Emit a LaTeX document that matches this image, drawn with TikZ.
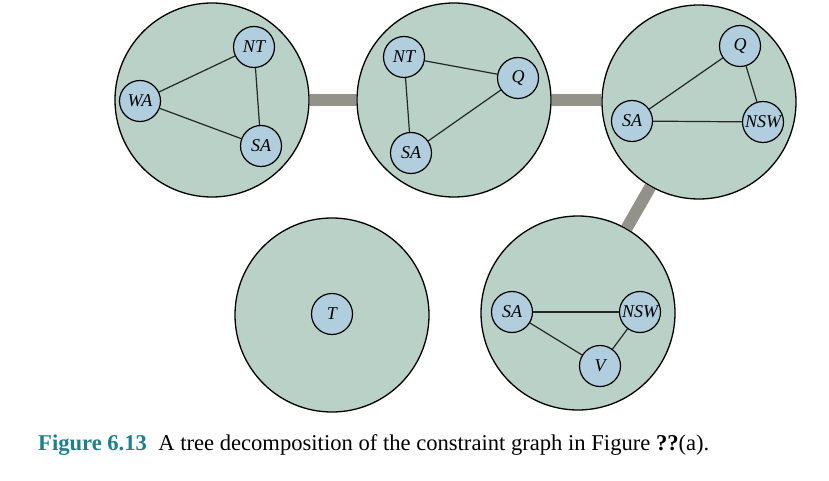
\documentclass[tikz,border=0pt]{standalone}
\usepackage{fontspec}
\setmainfont{Liberation Serif}
\definecolor{bagfill}{RGB}{185,209,198}
\definecolor{varfill}{RGB}{176,206,222}
\definecolor{linkgray}{RGB}{146,146,138}
\definecolor{capteal}{RGB}{30,128,140}
\begin{document}
\begin{tikzpicture}[x=1pt,y=-1pt,
  bag/.style={circle,draw=black,line width=1.3pt,fill=bagfill,minimum size=194pt,inner sep=0pt},
  var/.style={circle,draw=black,line width=1.2pt,fill=varfill,minimum size=41pt,inner sep=0pt,font=\fontsize{18}{20}\selectfont\itshape},
  edge/.style={line width=1.2pt,black!85},
  link/.style={line width=12pt,linkgray}]
\useasboundingbox (0,0) rectangle (829,481);
% bags
\node[bag] (b1) at (212,100) {};
\node[bag] (b2) at (454,100) {};
\node[bag] (b3) at (699,102) {};
\node[bag] (b4) at (332,315) {};
\node[bag] (b5) at (578,313) {};
% bag 1
\node[var] (nt1) at (254,47) {NT};
\node[var] (wa1) at (140,101) {WA};
\node[var] (sa1) at (261,146) {SA};
\draw[edge] (wa1) -- (nt1);
\draw[edge] (wa1) -- (sa1);
\draw[edge] (nt1) -- (sa1);
% bag 2
\node[var] (nt2) at (404,57) {NT};
\node[var] (q2) at (518,78) {Q};
\node[var] (sa2) at (411,153) {SA};
\draw[edge] (nt2) -- (q2);
\draw[edge] (nt2) -- (sa2);
\draw[edge] (sa2) -- (q2);
% bag 3
\node[var] (q3) at (740,46) {Q};
\node[var] (sa3) at (632,121) {SA};
\node[var] (nsw3) at (763,122) {NSW};
\draw[edge] (sa3) -- (q3);
\draw[edge] (sa3) -- (nsw3);
\draw[edge] (q3) -- (nsw3);
% bag 4
\node[var] (t4) at (332,314) {T};
% bag 5
\node[var] (sa5) at (512,312) {SA};
\node[var] (nsw5) at (640,312) {NSW};
\node[var] (v5) at (600,366) {V};
\draw[edge] (sa5) -- (nsw5);
\draw[edge] (sa5) -- (v5);
\draw[edge] (v5) -- (nsw5);
% tree links
\draw[link] (b1) -- (b2);
\draw[link] (b2.east) -- (b2.east -| b3.west);
\draw[link] (b3) -- (b5);
% caption
\node[anchor=base west,inner sep=0pt,font=\fontsize{22.6}{26}\selectfont] (cap) at (38,450)
  {\textbf{\textcolor{capteal}{Figure 6.13}}\hspace{0.5em}A tree decomposition of the constraint graph in Figure \textbf{??}(a).};
\end{tikzpicture}
\end{document}
